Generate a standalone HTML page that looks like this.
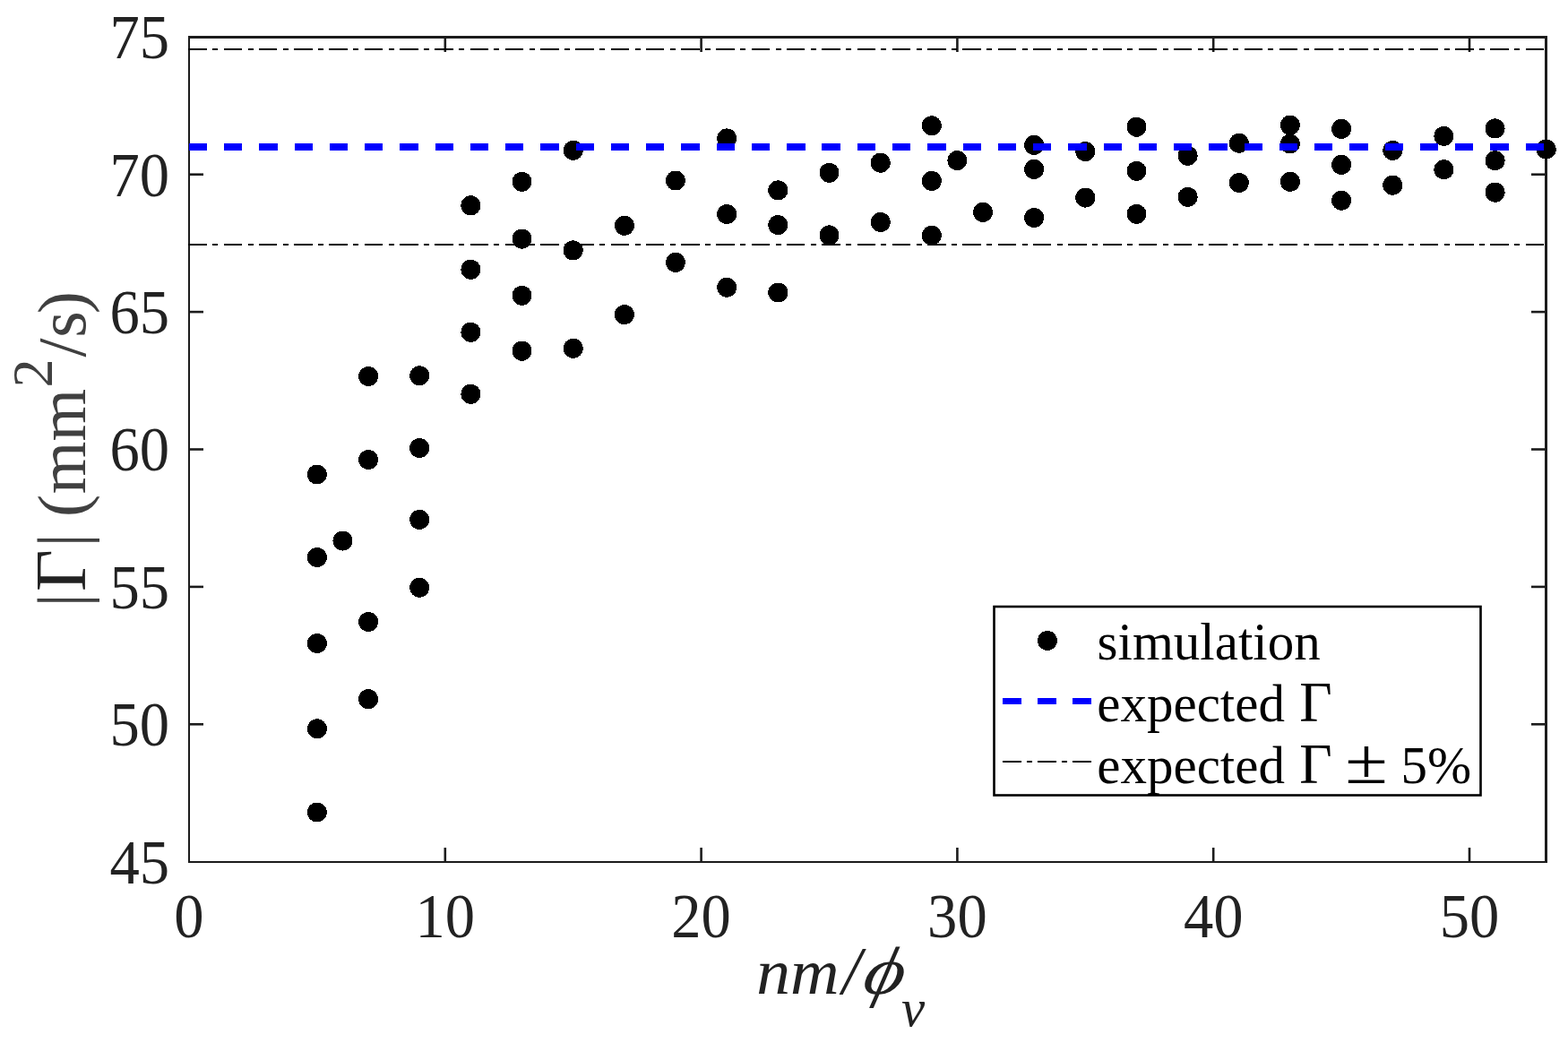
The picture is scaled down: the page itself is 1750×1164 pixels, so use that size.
<!DOCTYPE html><html><head><meta charset="utf-8"><title>plot</title>
<style>html,body{margin:0;padding:0;background:#fff;overflow:hidden}svg{display:block}text{font-family:"Liberation Serif","Times New Roman",serif}</style></head><body>
<svg width="1750" height="1164" viewBox="0 0 1750 1164">
<rect width="1750" height="1164" fill="#fff"/>
<g fill="#1c1c1c"><rect x="210" y="40" width="1517" height="3"/><rect x="210" y="961" width="1517" height="2"/><rect x="210" y="40" width="2" height="923"/><rect x="1724" y="40" width="3" height="923"/><rect x="495.5" y="946" width="2.6" height="15"/><rect x="495.5" y="43" width="2.6" height="15"/><rect x="781.3" y="946" width="2.6" height="15"/><rect x="781.3" y="43" width="2.6" height="15"/><rect x="1067.1" y="946" width="2.6" height="15"/><rect x="1067.1" y="43" width="2.6" height="15"/><rect x="1352.9" y="946" width="2.6" height="15"/><rect x="1352.9" y="43" width="2.6" height="15"/><rect x="1638.7" y="946" width="2.6" height="15"/><rect x="1638.7" y="43" width="2.6" height="15"/><rect x="212" y="807.0" width="15" height="2.6"/><rect x="1709" y="807.0" width="15" height="2.6"/><rect x="212" y="653.6" width="15" height="2.6"/><rect x="1709" y="653.6" width="15" height="2.6"/><rect x="212" y="500.2" width="15" height="2.6"/><rect x="1709" y="500.2" width="15" height="2.6"/><rect x="212" y="346.8" width="15" height="2.6"/><rect x="1709" y="346.8" width="15" height="2.6"/><rect x="212" y="193.4" width="15" height="2.6"/><rect x="1709" y="193.4" width="15" height="2.6"/></g>
<g fill="#000" shape-rendering="crispEdges"><circle cx="353.9" cy="529.5" r="11.0"/><circle cx="353.9" cy="622.0" r="11.0"/><circle cx="353.9" cy="718.0" r="11.0"/><circle cx="353.9" cy="813.3" r="11.0"/><circle cx="353.9" cy="906.5" r="11.0"/><circle cx="382.5" cy="603.5" r="11.0"/><circle cx="411.1" cy="420.0" r="11.0"/><circle cx="411.1" cy="513.0" r="11.0"/><circle cx="411.1" cy="694.0" r="11.0"/><circle cx="411.1" cy="780.2" r="11.0"/><circle cx="468.2" cy="419.3" r="11.0"/><circle cx="468.2" cy="500.1" r="11.0"/><circle cx="468.2" cy="579.9" r="11.0"/><circle cx="468.2" cy="655.7" r="11.0"/><circle cx="525.4" cy="229.3" r="11.0"/><circle cx="525.4" cy="300.8" r="11.0"/><circle cx="525.4" cy="370.8" r="11.0"/><circle cx="525.4" cy="439.8" r="11.0"/><circle cx="582.5" cy="202.9" r="11.0"/><circle cx="582.5" cy="266.6" r="11.0"/><circle cx="582.5" cy="329.9" r="11.0"/><circle cx="582.5" cy="391.7" r="11.0"/><circle cx="639.7" cy="167.8" r="11.0"/><circle cx="639.7" cy="279.4" r="11.0"/><circle cx="639.7" cy="388.8" r="11.0"/><circle cx="696.9" cy="251.8" r="11.0"/><circle cx="696.9" cy="351.1" r="11.0"/><circle cx="754.0" cy="201.5" r="11.0"/><circle cx="754.0" cy="292.9" r="11.0"/><circle cx="811.2" cy="154.4" r="11.0"/><circle cx="811.2" cy="239.0" r="11.0"/><circle cx="811.2" cy="320.7" r="11.0"/><circle cx="868.3" cy="212.4" r="11.0"/><circle cx="868.3" cy="251.1" r="11.0"/><circle cx="868.3" cy="326.5" r="11.0"/><circle cx="925.5" cy="192.8" r="11.0"/><circle cx="925.5" cy="262.4" r="11.0"/><circle cx="982.7" cy="181.7" r="11.0"/><circle cx="982.7" cy="248.0" r="11.0"/><circle cx="1039.8" cy="140.3" r="11.0"/><circle cx="1039.8" cy="201.9" r="11.0"/><circle cx="1039.8" cy="262.7" r="11.0"/><circle cx="1068.4" cy="179.1" r="11.0"/><circle cx="1097.0" cy="236.9" r="11.0"/><circle cx="1154.1" cy="161.9" r="11.0"/><circle cx="1154.1" cy="188.9" r="11.0"/><circle cx="1154.1" cy="243.0" r="11.0"/><circle cx="1211.3" cy="169.1" r="11.0"/><circle cx="1211.3" cy="220.6" r="11.0"/><circle cx="1268.5" cy="141.7" r="11.0"/><circle cx="1268.5" cy="190.9" r="11.0"/><circle cx="1268.5" cy="238.9" r="11.0"/><circle cx="1325.6" cy="173.8" r="11.0"/><circle cx="1325.6" cy="219.9" r="11.0"/><circle cx="1382.8" cy="159.7" r="11.0"/><circle cx="1382.8" cy="204.0" r="11.0"/><circle cx="1439.9" cy="139.6" r="11.0"/><circle cx="1439.9" cy="160.5" r="11.0"/><circle cx="1439.9" cy="202.8" r="11.0"/><circle cx="1497.1" cy="143.9" r="11.0"/><circle cx="1497.1" cy="183.9" r="11.0"/><circle cx="1497.1" cy="223.7" r="11.0"/><circle cx="1554.3" cy="167.9" r="11.0"/><circle cx="1554.3" cy="206.7" r="11.0"/><circle cx="1611.4" cy="151.9" r="11.0"/><circle cx="1611.4" cy="189.2" r="11.0"/><circle cx="1668.6" cy="143.4" r="11.0"/><circle cx="1668.6" cy="179.2" r="11.0"/><circle cx="1668.6" cy="214.7" r="11.0"/><circle cx="1725.7" cy="166.6" r="11.0"/></g>
<path d="M210.4,55.0H1725.7M210.4,273.0H1725.7" stroke="#000" stroke-width="2" stroke-dasharray="20.5 6.4 6 6.37" fill="none" shape-rendering="crispEdges"/>
<path d="M210.8,164.0H1725.7" stroke="#00f" stroke-width="8" stroke-dasharray="20.3 18.96" fill="none" shape-rendering="crispEdges"/>
<g font-size="69" fill="#222"><text transform="translate(211.0,1045.8) scale(0.965,1)" text-anchor="middle">0</text><text transform="translate(496.8,1045.8) scale(0.965,1)" text-anchor="middle">10</text><text transform="translate(782.6,1045.8) scale(0.965,1)" text-anchor="middle">20</text><text transform="translate(1068.4,1045.8) scale(0.965,1)" text-anchor="middle">30</text><text transform="translate(1354.2,1045.8) scale(0.965,1)" text-anchor="middle">40</text><text transform="translate(1640.0,1045.8) scale(0.965,1)" text-anchor="middle">50</text><text transform="translate(189,985.5) scale(0.965,1)" text-anchor="end">45</text><text transform="translate(189,832.1) scale(0.965,1)" text-anchor="end">50</text><text transform="translate(189,678.7) scale(0.965,1)" text-anchor="end">55</text><text transform="translate(189,525.3) scale(0.965,1)" text-anchor="end">60</text><text transform="translate(189,371.9) scale(0.965,1)" text-anchor="end">65</text><text transform="translate(189,218.5) scale(0.965,1)" text-anchor="end">70</text><text transform="translate(189,65.1) scale(0.965,1)" text-anchor="end">75</text></g>
<g font-style="italic" fill="#222"><text transform="translate(844.2,1108.8) scale(1.065,1)" font-size="71">nm</text><text x="940.0" y="1108.8" font-size="75.5">/</text><text transform="translate(960.5,1108.8) skewX(-13) scale(1.15,1)" font-size="75.5">ϕ</text><text x="1006.0" y="1145.2" font-size="59">v</text></g>
<text transform="translate(95.3,0) rotate(-90)" fill="#404040" font-size="75.5"><tspan x="-677.5" y="0" font-size="75.5">|</tspan><tspan x="-660.1" y="0" font-size="81" fill="#222">Γ</tspan><tspan x="-610.5" y="0" font-size="75.5">|</tspan><tspan x="-577.1" y="0" font-size="75.5">(</tspan><tspan x="-551.3" y="0" font-size="75.5">mm</tspan><tspan x="-432.4" y="-37.3" font-size="64">2</tspan><tspan x="-398.4" y="0" font-size="75.5">/</tspan><tspan x="-376.8" y="0" font-size="75.5">s</tspan><tspan x="-350.3" y="0" font-size="75.5">)</tspan></text>
<rect x="1109.5" y="677" width="543" height="210.5" fill="#fff" stroke="#000" stroke-width="2.6"/>
<circle cx="1169" cy="715" r="11" fill="#000" shape-rendering="crispEdges"/>
<path d="M1119,782.5H1218.5" stroke="#00f" stroke-width="7" stroke-dasharray="21 18" fill="none"/>
<path d="M1119,850H1218.5" stroke="#000" stroke-width="2" stroke-dasharray="21 6 6 6" fill="none"/>
<g font-size="59" fill="#000"><text x="1224.6" y="736">simulation</text><text x="1224.3" y="804.8">expected<tspan x="1450.2" font-size="63">Γ</tspan></text><text x="1224.3" y="874.4">expected<tspan x="1450.2" font-size="63">Γ</tspan><tspan x="1563.6">5%</tspan></text><text transform="translate(1501.2,874.4) scale(1.22,1)" font-size="71">±</text></g>
</svg></body></html>
